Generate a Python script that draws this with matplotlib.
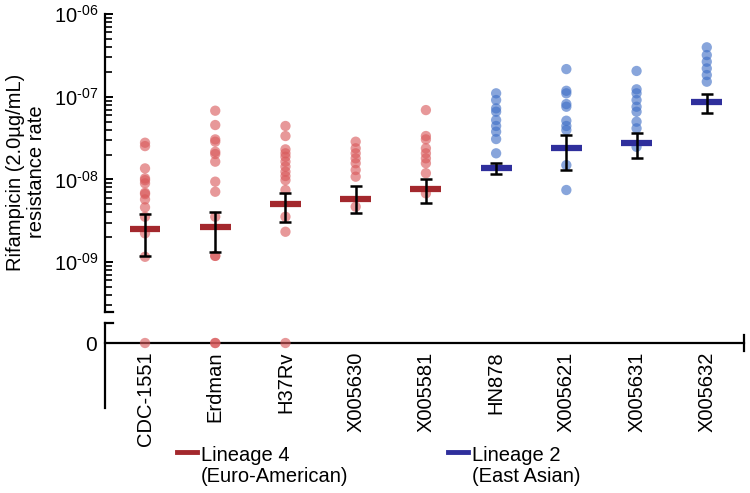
import numpy as np
import matplotlib.pyplot as plt
from matplotlib.lines import Line2D
from matplotlib.ticker import LogLocator, FuncFormatter, NullFormatter

plt.rcParams['font.family'] = ['Liberation Sans', 'DejaVu Sans']
plt.rcParams['mathtext.fontset'] = 'custom'
plt.rcParams['mathtext.rm'] = 'Liberation Sans'
plt.rcParams['mathtext.default'] = 'regular'

# strains and their lineage
strains = ['CDC-1551', 'Erdman', 'H37Rv', 'X005630', 'X005581',
           'HN878', 'X005621', 'X005631', 'X005632']
lineage = [4, 4, 4, 4, 4, 2, 2, 2, 2]

# non-zero resistance rates per culture
rates = [
    [2.78e-8, 2.53e-8, 1.36e-8, 1.03e-8, 9.8e-9, 8.97e-9, 6.9e-9, 6.65e-9,
     5.74e-9, 4.6e-9, 3.54e-9, 2.23e-9, 1.16e-9],
    [6.78e-8, 4.55e-8, 3.05e-8, 2.86e-8, 2.16e-8, 2.03e-8, 1.64e-8, 9.4e-9,
     7.1e-9, 3.54e-9, 1.19e-9, 1.19e-9],
    [4.43e-8, 3.35e-8, 2.31e-8, 2.07e-8, 1.88e-8, 1.64e-8, 1.43e-8, 1.24e-8,
     1.1e-8, 9.8e-9, 7.45e-9, 3.54e-9, 2.33e-9],
    [2.86e-8, 2.38e-8, 2.07e-8, 1.8e-8, 1.57e-8, 1.3e-8, 1.08e-8, 4.68e-9],
    [6.9e-8, 3.35e-8, 3.05e-8, 2.38e-8, 2.07e-8, 1.8e-8, 1.57e-8, 1.19e-8,
     6.79e-9],
    [1.10e-7, 9.12e-8, 7.24e-8, 6.59e-8, 5.23e-8, 4.43e-8, 3.78e-8, 3.08e-8,
     2.07e-8],
    [2.16e-7, 1.18e-7, 1.10e-7, 8.16e-8, 7.57e-8, 5.13e-8, 4.43e-8, 3.96e-8,
     1.49e-8, 7.45e-9],
    [2.05e-7, 1.23e-7, 1.10e-7, 9.12e-8, 7.57e-8, 6.59e-8, 4.99e-8, 4.15e-8,
     2.48e-8],
    [3.96e-7, 3.19e-7, 2.65e-7, 2.2e-7, 1.83e-7, 1.52e-7],
]
zero_counts = [1, 2, 1, 0, 0, 0, 0, 0, 0]

means = [2.49e-9, 2.68e-9, 5.04e-9, 5.74e-9, 7.66e-9, 1.36e-8, 2.38e-8, 2.73e-8, 8.7e-8]
err_hi = [3.82e-9, 4.07e-9, 6.9e-9, 8.39e-9, 1.01e-8, 1.57e-8, 3.44e-8, 3.61e-8, 1.08e-7]
err_lo = [1.19e-9, 1.32e-9, 3.05e-9, 3.89e-9, 5.14e-9, 1.15e-8, 1.3e-8, 1.8e-8, 6.3e-8]

pt_col = {4: '#d9595b', 2: '#3f6fc6'}
bar_col = {4: '#a3282d', 2: '#2f2f9c'}

fig = plt.figure(figsize=(7.5, 4.93), dpi=100)
ax = fig.add_axes([0.14, 0.367, 0.852, 0.6045])
axb = fig.add_axes([0.14, 0.1724, 0.852, 0.1724])

x = np.arange(len(strains))
for i in x:
    L = lineage[i]
    ax.scatter(np.full(len(rates[i]), i), rates[i], s=55, color=pt_col[L],
               alpha=0.62, edgecolors='none', zorder=2)
    if zero_counts[i]:
        axb.scatter(np.full(zero_counts[i], i), np.zeros(zero_counts[i]), s=55,
                    color=pt_col[L], alpha=0.62, edgecolors='none', zorder=3,
                    clip_on=False)
    ax.plot([i - 0.22, i + 0.22], [means[i], means[i]], color=bar_col[L],
            lw=4.5, solid_capstyle='butt', zorder=3)
    ax.errorbar(i, means[i], yerr=[[means[i] - err_lo[i]], [err_hi[i] - means[i]]],
                fmt='none', ecolor='black', elinewidth=1.8, capsize=4.5,
                capthick=1.8, zorder=4)

xl = (-0.57, 8.53)

# upper log panel
ax.set_yscale('log')
ax.set_ylim(2.49e-10, 1e-6)
ax.set_xlim(*xl)
for s in ['top', 'right', 'bottom']:
    ax.spines[s].set_visible(False)
ax.spines['left'].set_linewidth(1.6)
ax.set_xticks([])
ax.yaxis.set_major_locator(LogLocator(base=10, numticks=10))
ax.yaxis.set_minor_locator(LogLocator(base=10, subs=np.arange(2, 10), numticks=10))
ax.yaxis.set_minor_formatter(NullFormatter())
ax.yaxis.set_major_formatter(
    FuncFormatter(lambda v, p: r'10$^{\text{-%02d}}$' % round(-np.log10(v))))
ax.tick_params(axis='y', which='major', direction='in', length=6, width=1.4,
               labelsize=14.5, pad=5)
ax.tick_params(axis='y', which='minor', direction='in', length=5, width=1.2)
ax.plot([0, 0.013], [0, 0], transform=ax.transAxes, color='black', lw=1.6,
        clip_on=False)

# lower zero panel
axb.set_xlim(*xl)
axb.set_ylim(-3.25, 1)
axb.spines['top'].set_visible(False)
axb.spines['right'].set_visible(False)
axb.spines['bottom'].set_position(('data', 0))
axb.spines['bottom'].set_linewidth(1.6)
axb.spines['left'].set_linewidth(1.6)
axb.set_yticks([0])
axb.set_yticklabels(['0'])
axb.tick_params(axis='y', length=0, labelsize=15, pad=6)
axb.set_xticks(x)
axb.set_xticklabels(strains, rotation=90, ha='center', va='top')
axb.tick_params(axis='x', length=0, labelsize=14.5, pad=6)
axb.plot([xl[1], xl[1]], [-0.4, 0.4], color='black', lw=1.6, clip_on=False)
axb.plot([0, 0.013], [1, 1], transform=axb.transAxes, color='black', lw=1.6,
         clip_on=False)

fig.text(26 / 750, 1 - 172 / 493, 'Rifampicin (2.0µg/mL)\nresistance rate',
         rotation=90, ha='center', va='center', fontsize=14.5,
         multialignment='center', linespacing=1.15)

# legend
for (x0, x1, L, txt) in [(177, 197, 4, 'Lineage 4\n(Euro-American)'),
                         (448, 468, 2, 'Lineage 2\n(East Asian)')]:
    fig.add_artist(Line2D([x0 / 750, x1 / 750], [1 - 452 / 493] * 2,
                          transform=fig.transFigure, color=bar_col[L], lw=3.5))
    fig.text((x1 + 4) / 750, 1 - 466 / 493, txt, ha='left', va='center',
             fontsize=14.5, linespacing=1.15)

fig.savefig('out.png', dpi=100)
